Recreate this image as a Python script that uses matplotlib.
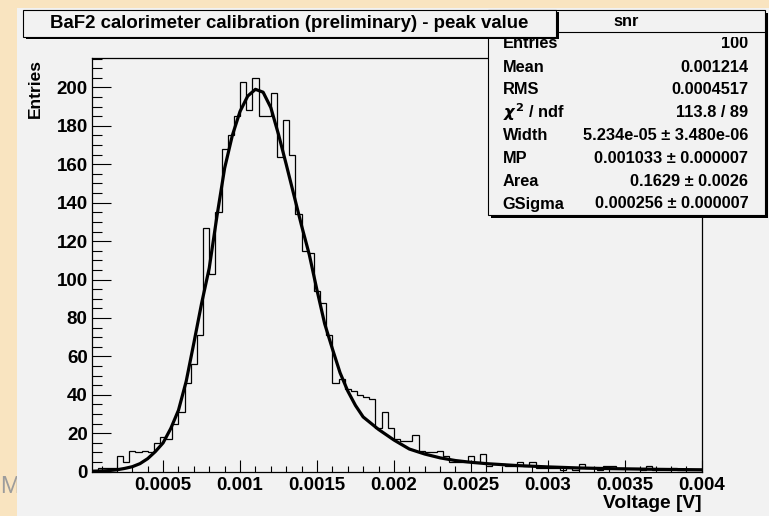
import numpy as np
import matplotlib
matplotlib.use("Agg")
import matplotlib.pyplot as plt
from matplotlib.patches import Rectangle
from matplotlib.lines import Line2D
from matplotlib.transforms import Bbox, TransformedBbox
from matplotlib.ticker import FixedLocator, FixedFormatter, MultipleLocator

plt.rcParams['font.family'] = ['Liberation Sans', 'DejaVu Sans']
plt.rcParams['font.weight'] = 'bold'

# ---------------- data ----------------
bin_low = 0.00004
bin_high = 0.004
counts = [1, 2, 2, 2, 8, 5, 11, 10, 11, 10,
          15, 18, 17, 25, 31, 46, 56, 71, 127, 103,
          135, 168, 175, 185, 203, 188, 205, 185, 185, 197,
          164, 183, 165, 134, 115, 114, 94, 88, 71, 46,
          48, 43, 42, 40, 39, 38, 23, 31, 23, 17,
          16, 16, 19, 11, 10, 10, 11, 8, 5, 5,
          5, 8, 5, 9, 3, 4, 4, 3, 3, 5,
          3, 5, 2, 2, 2, 2, 1, 2, 1, 4,
          2, 2, 1, 3, 3, 2, 2, 2, 2, 1,
          3, 1, 1, 1, 2, 1, 1, 1, 1]

fit_v = [0.00004, 0.0001, 0.00015, 0.0002, 0.00025, 0.0003, 0.00035, 0.0004,
         0.00045, 0.0005, 0.00055, 0.0006, 0.00065, 0.0007, 0.00075, 0.0008,
         0.00085, 0.0009, 0.00095, 0.001, 0.00105, 0.0011, 0.00115, 0.0012,
         0.00125, 0.0013, 0.00135, 0.0014, 0.00145, 0.0015, 0.00155, 0.0016,
         0.00165, 0.0017, 0.00175, 0.0018, 0.0019, 0.002, 0.0021, 0.0022,
         0.0023, 0.0024, 0.0025, 0.0026, 0.0028, 0.003, 0.0032, 0.0034,
         0.0036, 0.0038, 0.004]
fit_y = [0.2, 0.4, 0.6, 1.0, 1.7, 2.6, 4.2, 6.8,
         10.5, 15.0, 22.5, 32.0, 47.0, 67.0, 87.5, 106.0,
         133.0, 158.0, 175.0, 187.5, 195.5, 199.0, 197.5, 189.5,
         175.5, 160.0, 144.0, 128.0, 113.0, 94.5, 77.0, 64.0,
         51.5, 42.0, 34.5, 28.5, 22.0, 16.5, 11.8, 9.2,
         7.2, 5.8, 4.9, 4.2, 3.2, 2.5, 1.95, 1.6,
         1.35, 1.15, 1.0]

x_ticks = [0.0005, 0.001, 0.0015, 0.002, 0.0025, 0.003, 0.0035, 0.004]
x_tick_labels = ["0.0005", "0.001", "0.0015", "0.002", "0.0025", "0.003", "0.0035", "0.004"]
y_ticks = [0, 20, 40, 60, 80, 100, 120, 140, 160, 180, 200]
y_tick_labels = [str(v) for v in y_ticks]

title = "BaF2 calorimeter calibration (preliminary) - peak value"
stats_name = "snr"
stats_labels = ["Entries", "Mean", "RMS", r"$\chi^{2}$ / ndf", "Width", "MP", "Area", "GSigma"]
stats_values = ["100", "0.001214", "0.0004517", "113.8 / 89",
                "5.234e-05 ± 3.480e-06", "0.001033 ± 0.000007",
                "0.1629 ± 0.0026", "0.000256 ± 0.000007"]
x_label = "Voltage [V]"
y_label = "Entries"

# ---------------- layout helpers ----------------
W, H = 769, 516
def fx(x):
    return x / W
def fy(y):
    return 1 - y / H

fig = plt.figure(figsize=(W / 100, H / 100), dpi=100)
fig.patch.set_facecolor('#f9e4c0')

CANVAS = '#f2f2f2'
# background glyph of the slide behind the canvas (partly hidden by the canvas)
fig.text(fx(0.0), fy(487), "M", fontsize=17, color='#9c9c9c', fontweight='normal',
         ha='left', va='center', zorder=-3)
fig.add_artist(Rectangle((fx(17), 0), 1 - fx(17), fy(8), transform=fig.transFigure,
                         facecolor=CANVAS, edgecolor='none', zorder=-2))

L, R, T, B = 92.3, 701.7, 58.0, 471.7
ax = fig.add_axes([fx(L), fy(B), fx(R) - fx(L), fy(T) - fy(B)])
ax.set_facecolor(CANVAS)

edges = np.linspace(bin_low, bin_high, len(counts) + 1)
ax.stairs(counts, edges, color='black', lw=0.9, baseline=0)
ax.plot(fit_v, fit_y, color='black', lw=2.3, solid_joinstyle='round')

ax.set_xlim(bin_low, bin_high)
ax.set_ylim(0, 215.3)
for s in ax.spines.values():
    s.set_linewidth(0.9)

ax.xaxis.set_major_locator(FixedLocator(x_ticks))
ax.xaxis.set_major_formatter(FixedFormatter(x_tick_labels))
ax.xaxis.set_minor_locator(MultipleLocator(0.0001))
ax.yaxis.set_major_locator(FixedLocator(y_ticks))
ax.yaxis.set_major_formatter(FixedFormatter(y_tick_labels))
ax.yaxis.set_minor_locator(MultipleLocator(5))

ax.tick_params(axis='x', which='major', direction='in', length=8.4, width=0.8,
               labelsize=13.5, pad=4.0, top=False)
ax.tick_params(axis='x', which='minor', direction='in', length=4.1, width=0.8, top=False)
ax.tick_params(axis='y', which='major', direction='in', length=13.7, width=0.8,
               labelsize=13.5, pad=3.3, right=False)
ax.tick_params(axis='y', which='minor', direction='in', length=7.2, width=0.8, right=False)
for lab in ax.get_xticklabels() + ax.get_yticklabels():
    lab.set_fontweight('bold')

fig.text(fx(701.7), fy(504), x_label, fontsize=13.8, fontweight='bold',
         ha='right', va='center')
fig.text(fx(35), fy(59), y_label, fontsize=12.5, fontweight='bold', rotation=90,
         ha='center', va='top')

# ---------------- boxes ----------------
def shadow_box(l, t, r, b, z):
    fig.add_artist(Rectangle((fx(l + 2.5), fy(b + 2.5)), fx(r) - fx(l), fy(t) - fy(b),
                             transform=fig.transFigure, facecolor='black',
                             edgecolor='none', zorder=z))
    fig.add_artist(Rectangle((fx(l), fy(b)), fx(r) - fx(l), fy(t) - fy(b),
                             transform=fig.transFigure, facecolor=CANVAS,
                             edgecolor='black', lw=0.8, zorder=z + 0.1))

# stats box
shadow_box(488.3, 10, 765, 215, 5)
fig.add_artist(Line2D([fx(488.3), fx(765)], [fy(32.3), fy(32.3)],
                      transform=fig.transFigure, color='black', lw=0.8, zorder=5.2))
fig.text(fx(626.5), fy(21.0), stats_name, fontsize=11.8, fontweight='bold',
         ha='center', va='center', zorder=5.3)
row_y = [43.0, 67.7, 90.0, 112.6, 135.7, 158.3, 181.7, 204.0]
clip = TransformedBbox(Bbox([[fx(490), fy(214)], [fx(764), fy(36.5)]]), fig.transFigure)
for lab, val, yy in zip(stats_labels, stats_values, row_y):
    t1 = fig.text(fx(502.7), fy(yy), lab, fontsize=11.8, fontweight='bold',
                  ha='left', va='center', zorder=5.3)
    t2 = fig.text(fx(748.5), fy(yy), val, fontsize=11.8, fontweight='bold',
                  ha='right', va='center', zorder=5.3)
    for t in (t1, t2):
        t.set_clip_box(clip)
        t.set_clip_on(True)

# title box (drawn over stats box)
shadow_box(23.3, 9.7, 556.5, 36.7, 7)
fig.text(fx(289), fy(23.2), title, fontsize=13.4, fontweight='bold',
         ha='center', va='center', zorder=7.3)

fig.savefig("out.png", dpi=100, facecolor=fig.get_facecolor())
